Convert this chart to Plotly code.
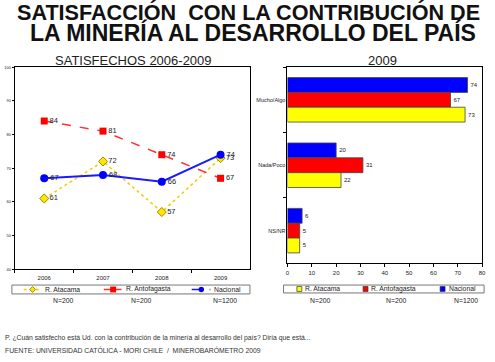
import plotly.graph_objects as go

# ---------------- data ----------------
years = ["2006", "2007", "2008", "2009"]
atacama = [61, 72, 57, 73]
antofagasta = [84, 81, 74, 67]
nacional = [67, 68, 66, 74]

bar_cats = ["Mucho/Algo", "Nada/Poco", "NS/NR"]
bar_atacama = [73, 22, 5]
bar_antofagasta = [67, 31, 5]
bar_nacional = [74, 20, 6]

series_names = ["R. Atacama", "R. Antofagasta", "Nacional"]
sample_sizes = ["N=200", "N=200", "N=1200"]

title_lines = ["SATISFACCIÓN  CON LA CONTRIBUCIÓN DE", "LA MINERÍA AL DESARROLLO DEL PAÍS"]
left_title = "SATISFECHOS 2006-2009"
right_title = "2009"
question = "P. ¿Cuán satisfecho está Ud. con la contribución de la minería al desarrollo del país? Diría que está..."
source = "FUENTE: UNIVERSIDAD CATÓLICA - MORI CHILE  /  MINEROBARÓMETRO 2009"

# ---------------- helpers ----------------
W, H = 495, 362
def X(p):
    return p / W
def Y(p):
    return 1 - p / H

FONT = "Liberation Sans, Arial, sans-serif"
YEL_LINE = "#F2CC00"
YEL = "#FFFF00"
RED = "#FF0000"
BLUE = "#0000FF"

fig = go.Figure()

# ---------------- line chart ----------------
fig.add_trace(go.Scatter(
    x=years, y=atacama, mode="lines+markers+text",
    text=[str(v) for v in atacama], textposition="middle right",
    textfont=dict(size=7.5, color="#222", family=FONT),
    line=dict(color=YEL_LINE, width=1.5, dash="dot"),
    marker=dict(symbol="diamond", size=7, color="#FFE600", line=dict(color="#A08A00", width=1)),
    cliponaxis=False, showlegend=False, xaxis="x", yaxis="y"))
fig.add_trace(go.Scatter(
    x=years, y=antofagasta, mode="lines+markers+text",
    text=[str(v) for v in antofagasta], textposition="middle right",
    textfont=dict(size=7.5, color="#222", family=FONT),
    line=dict(color="#FF3030", width=1.5, dash="dash"),
    marker=dict(symbol="square", size=7, color=RED),
    cliponaxis=False, showlegend=False, xaxis="x", yaxis="y"))
fig.add_trace(go.Scatter(
    x=years, y=nacional, mode="lines+markers+text",
    text=[str(v) for v in nacional], textposition="middle right",
    textfont=dict(size=7.5, color="#222", family=FONT),
    line=dict(color="#1A1AFF", width=2),
    marker=dict(symbol="circle", size=8, color=BLUE),
    cliponaxis=False, showlegend=False, xaxis="x", yaxis="y"))

# ---------------- bar chart ----------------
for vals, col in [(bar_nacional, BLUE), (bar_antofagasta, RED), (bar_atacama, YEL)]:
    fig.add_trace(go.Bar(
        y=bar_cats, x=vals, orientation="h",
        marker=dict(color=col, line=dict(color="#444", width=0.8)),
        text=[str(v) for v in vals], textposition="outside",
        textfont=dict(size=6, color="#222", family=FONT),
        cliponaxis=False, showlegend=False, xaxis="x2", yaxis="y2"))

axis_common = dict(showline=True, linecolor="black", linewidth=1, mirror=True,
                   showgrid=False, zeroline=False, ticks="outside", tickcolor="black")

fig.update_layout(
    width=W, height=H, margin=dict(l=0, r=0, t=0, b=0),
    paper_bgcolor="white", plot_bgcolor="white",
    font=dict(family=FONT, color="#222"),
    barmode="group", bargap=0.32, bargroupgap=0,
    xaxis=dict(domain=[X(13), X(251)], anchor="y", type="category",
               range=[-0.5, 3.5], tickson="boundaries", ticklen=3,
               ticklabelstandoff=3, tickfont=dict(size=6), **axis_common),
    yaxis=dict(domain=[Y(270), Y(65)], anchor="x", range=[40, 100], dtick=10,
               ticklen=2, tickfont=dict(size=4), **axis_common),
    xaxis2=dict(domain=[X(289), X(486)], anchor="y2", range=[0, 80], dtick=10,
                ticklen=3, tickfont=dict(size=6), **axis_common),
    yaxis2=dict(domain=[Y(264), Y(65)], anchor="x2", type="category",
                categoryorder="array", categoryarray=bar_cats, range=[2.5, -0.5],
                tickson="boundaries", ticklen=3, tickfont=dict(size=5.5), **axis_common),
)

ann = []
shapes = []
# titles
ann.append(dict(text="<b>" + title_lines[0] + "</b>", x=X(250), y=Y(9.5), xref="paper", yref="paper",
                xanchor="center", yanchor="middle", showarrow=False,
                font=dict(size=21.6, color="#111", family=FONT)))
ann.append(dict(text="<b>" + title_lines[1] + "</b>", x=X(254), y=Y(29.5), xref="paper", yref="paper",
                xanchor="center", yanchor="middle", showarrow=False,
                font=dict(size=23, color="#111", family=FONT)))
ann.append(dict(text=left_title, x=X(133), y=Y(58), xref="paper", yref="paper",
                xanchor="center", yanchor="middle", showarrow=False,
                font=dict(size=13, color="#222", family=FONT)))
ann.append(dict(text=right_title, x=X(385), y=Y(58), xref="paper", yref="paper",
                xanchor="center", yanchor="middle", showarrow=False,
                font=dict(size=13, color="#222", family=FONT)))
# footnotes
ann.append(dict(text=question, x=X(1), y=Y(340), xref="paper", yref="paper",
                xanchor="left", yanchor="middle", showarrow=False,
                font=dict(size=6.8, color="#333", family=FONT)))
ann.append(dict(text=source, x=X(1), y=Y(352), xref="paper", yref="paper",
                xanchor="left", yanchor="middle", showarrow=False,
                font=dict(size=6.8, color="#333", family=FONT)))

# left legend box
shapes.append(dict(type="rect", xref="paper", yref="paper", x0=X(10), x1=X(251), y0=Y(295), y1=Y(286),
                   line=dict(color="#777", width=1), fillcolor="white"))
ly = 290.5
# Atacama
shapes.append(dict(type="line", xref="paper", yref="paper", x0=X(22), x1=X(40), y0=Y(ly), y1=Y(ly),
                   line=dict(color=YEL_LINE, width=1.5, dash="dot")))
shapes.append(dict(type="path", xref="paper", yref="paper",
                   path=f"M {X(31)} {Y(ly-3)} L {X(34)} {Y(ly)} L {X(31)} {Y(ly+3)} L {X(28)} {Y(ly)} Z",
                   line=dict(color="#A08A00", width=1), fillcolor="#FFE600"))
# Antofagasta
shapes.append(dict(type="line", xref="paper", yref="paper", x0=X(103), x1=X(121), y0=Y(ly), y1=Y(ly),
                   line=dict(color="#FF3030", width=1.5)))
shapes.append(dict(type="rect", xref="paper", yref="paper", x0=X(109.5), x1=X(115.5), y0=Y(ly+3), y1=Y(ly-3),
                   line=dict(color=RED, width=0), fillcolor=RED))
# Nacional
shapes.append(dict(type="line", xref="paper", yref="paper", x0=X(192), x1=X(211), y0=Y(ly), y1=Y(ly),
                   line=dict(color="#1A1AFF", width=1.5, dash="dash")))
shapes.append(dict(type="circle", xref="paper", yref="paper", x0=X(199), x1=X(204.5), y0=Y(ly+2.7), y1=Y(ly-2.7),
                   line=dict(color=BLUE, width=0), fillcolor=BLUE))
for tx, name in zip([42, 123, 213], series_names):
    ann.append(dict(text=name, x=X(tx), y=Y(ly), xref="paper", yref="paper", xanchor="left", yanchor="middle",
                    showarrow=False, font=dict(size=6.8, color="#222", family=FONT)))
for tx, n in zip([62, 141, 226], sample_sizes):
    ann.append(dict(text=n, x=X(tx), y=Y(302), xref="paper", yref="paper", xanchor="center", yanchor="middle",
                    showarrow=False, font=dict(size=6.8, color="#222", family=FONT)))

# right legend box
shapes.append(dict(type="rect", xref="paper", yref="paper", x0=X(285), x1=X(488), y0=Y(294), y1=Y(286),
                   line=dict(color="#777", width=1), fillcolor="white"))
ry = 290
for sx, col in zip([301, 368, 446], [YEL, RED, BLUE]):
    shapes.append(dict(type="rect", xref="paper", yref="paper", x0=X(sx-2.5), x1=X(sx+2.5), y0=Y(ry+2.5), y1=Y(ry-2.5),
                       line=dict(color="#333", width=0.7), fillcolor=col))
for tx, name in zip([305, 372, 450], series_names):
    ann.append(dict(text=name, x=X(tx), y=Y(ry), xref="paper", yref="paper", xanchor="left", yanchor="middle",
                    showarrow=False, font=dict(size=6.8, color="#222", family=FONT)))
for tx, n in zip([322, 399, 470], sample_sizes):
    ann.append(dict(text=n, x=X(tx), y=Y(302), xref="paper", yref="paper", xanchor="center", yanchor="middle",
                    showarrow=False, font=dict(size=6.8, color="#222", family=FONT)))

fig.update_layout(annotations=ann, shapes=shapes)
fig.write_html("out.html", config={"displayModeBar": False},
               post_script="document.body.style.margin='0';document.body.style.overflow='hidden';")
